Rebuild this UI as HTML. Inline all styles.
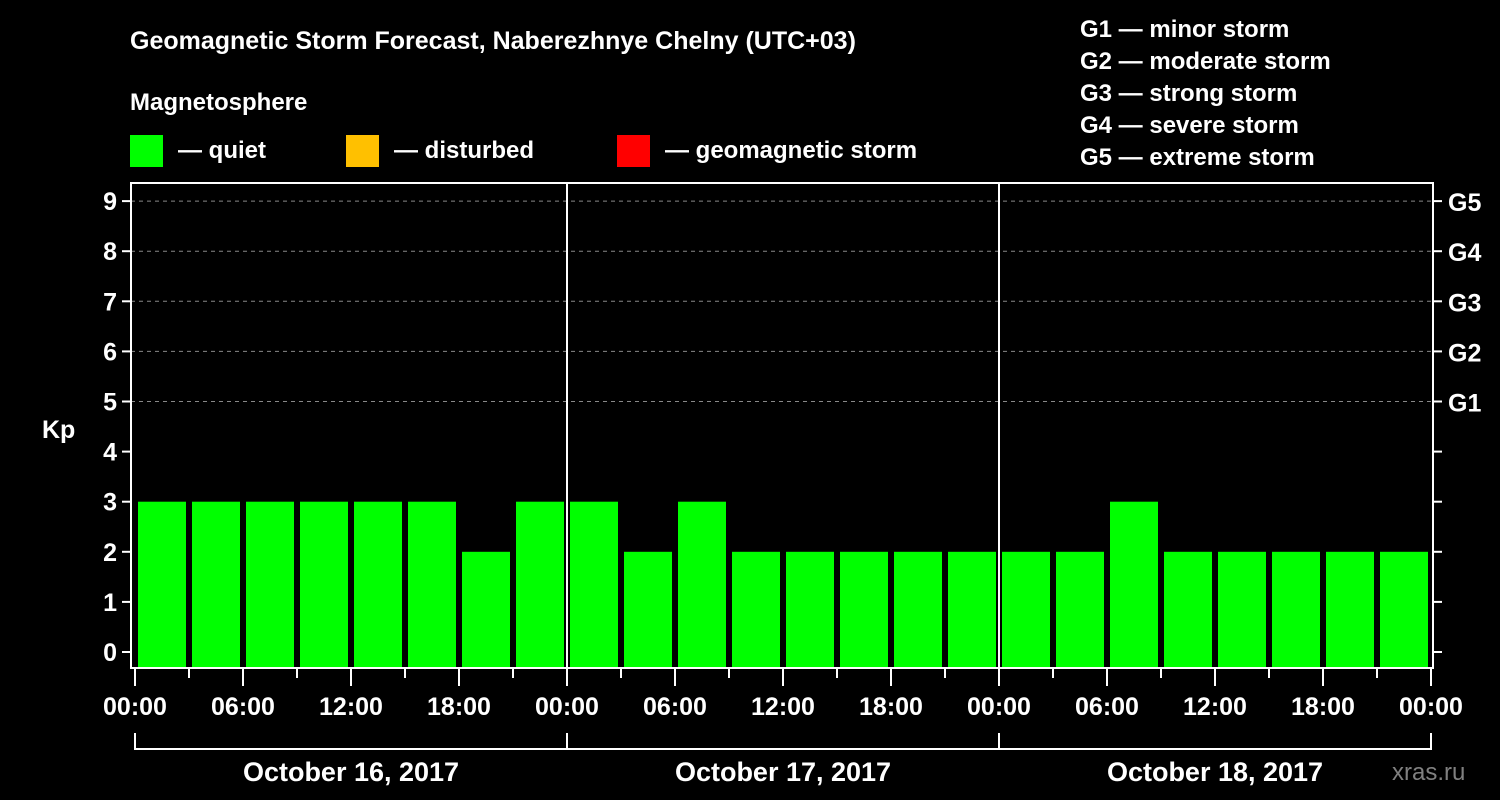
<!DOCTYPE html>
<html><head><meta charset="utf-8"><style>
html,body{margin:0;padding:0;background:#000;width:1500px;height:800px;overflow:hidden}
svg text{font-family:"Liberation Sans",Arial,sans-serif;font-weight:bold;fill:#fff}
</style></head><body>
<svg id="chart" width="1500" height="800" xmlns="http://www.w3.org/2000/svg">
<text x="130" y="49" font-size="25">Geomagnetic Storm Forecast, Naberezhnye Chelny (UTC+03)</text>
<text x="130" y="110" font-size="24">Magnetosphere</text>
<g><rect x="130" y="135" width="33" height="32" fill="#00ff00"/><text x="178" y="158" font-size="24">— quiet</text></g>
<g><rect x="346" y="135" width="33" height="32" fill="#ffc000"/><text x="394" y="158" font-size="24">— disturbed</text></g>
<g><rect x="617" y="135" width="33" height="32" fill="#ff0000"/><text x="665" y="158" font-size="24">— geomagnetic storm</text></g>
<g font-size="24">
<text x="1080" y="37">G1 — minor storm</text>
<text x="1080" y="69">G2 — moderate storm</text>
<text x="1080" y="101">G3 — strong storm</text>
<text x="1080" y="133">G4 — severe storm</text>
<text x="1080" y="165">G5 — extreme storm</text>
</g>
<text x="42" y="438" font-size="25">Kp</text>
<text x="1392" y="780" font-size="24" style="fill:#808080;font-weight:normal">xras.ru</text>
<g id="grid"></g><g id="bars"></g><g id="axes"></g>
</svg>
<script>
const days = ["October 16, 2017","October 17, 2017","October 18, 2017"];
const kpValues = [3,3,3,3,3,3,2,3, 3,2,3,2,2,2,2,2, 2,2,3,2,2,2,2,2];
const yTicks = [0,1,2,3,4,5,6,7,8,9];
const gLabels = ["G1","G2","G3","G4","G5"];
const gLevels = [5,6,7,8,9];
const xTickLabels = ["00:00","06:00","12:00","18:00"];
const NS="http://www.w3.org/2000/svg";
const L=131,R=1433,T=183,B=668,X0=135,DAYW=432;
const y=v=>652-v*50.1;
const x=h=>X0+h*(DAYW/24);
function mk(tag,attrs,parent,text){const e=document.createElementNS(NS,tag);for(const k in attrs)e.setAttribute(k,attrs[k]);if(text!==undefined)e.textContent=text;parent.appendChild(e);return e;}
const grid=document.getElementById('grid'),bars=document.getElementById('bars'),axes=document.getElementById('axes');
gLevels.forEach((g,i)=>{
  const l=mk('line',{x1:L,x2:R,y1:y(g),y2:y(g),stroke:'#888','stroke-dasharray':'4,4','stroke-width':1},grid);
  
  
  const t=mk('text',{x:1448,y:y(g)+10,'font-size':25},axes,gLabels[i]);
  
  
});
kpValues.forEach((v,i)=>{
  const c=v>=5?'#ff0000':(v>=4?'#ffc000':'#00ff00');
  const r=mk('rect',{x:x(i*3)+3,y:y(v),width:x(3)-x(0)-6,height:B-y(v),fill:c},bars);
  
  
});
mk('rect',{x:L,y:T,width:R-L,height:B-T,fill:'none',stroke:'#fff','stroke-width':2},axes);
for(let d=1;d<days.length;d++){
  const l=mk('line',{x1:x(d*24),x2:x(d*24),y1:T,y2:B,stroke:'#fff','stroke-width':2},axes);
  
  
}
yTicks.forEach(v=>{
  mk('line',{x1:L-9,x2:L,y1:y(v),y2:y(v),stroke:'#fff','stroke-width':2},axes);
  mk('line',{x1:R,x2:R+9,y1:y(v),y2:y(v),stroke:'#fff','stroke-width':2},axes);
  const t=mk('text',{x:L-14,y:y(v)+9,'font-size':25,'text-anchor':'end'},axes,String(v));
  
  
});
for(let h=0;h<=days.length*24;h+=3){
  const major=h%6===0;
  mk('line',{x1:x(h),x2:x(h),y1:B,y2:major?B+18:B+10,stroke:'#fff','stroke-width':2},axes);
  if(major){
    const t=mk('text',{x:x(h),y:715,'font-size':25,'text-anchor':'middle'},axes,h===days.length*24?"00:00":xTickLabels[(h%24)/6]);
    
    
  }
}
days.forEach((d,i)=>{
  const a=x(i*24),b=x((i+1)*24);
  mk('path',{d:`M${a},733 V749 H${b} V733`,fill:'none',stroke:'#fff','stroke-width':2},axes);
  const t=mk('text',{x:(a+b)/2,y:781,'font-size':27,'text-anchor':'middle'},axes,d);
  
  
});
</script>
</body></html>
